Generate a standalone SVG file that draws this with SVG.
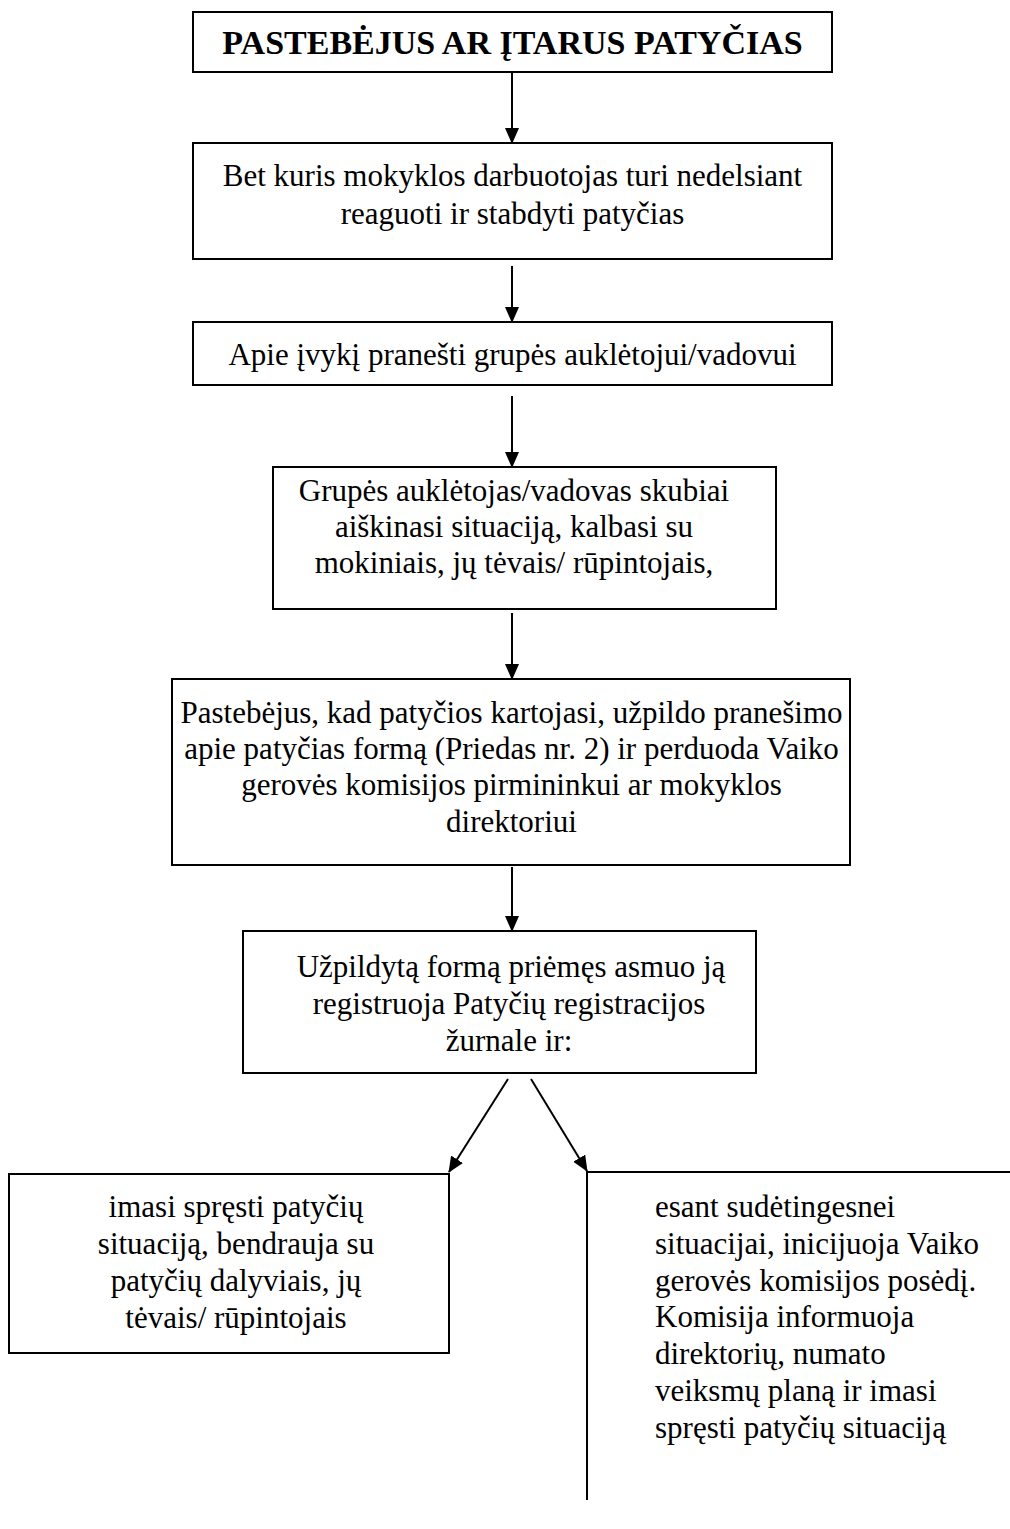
<svg xmlns="http://www.w3.org/2000/svg" width="1010" height="1529" viewBox="0 0 1010 1529">
<defs>
<marker id="ah" markerUnits="userSpaceOnUse" markerWidth="16" markerHeight="14" refX="15" refY="7" orient="auto">
<path d="M0,0 L16,7 L0,14 Z" fill="#000"/>
</marker>
<style>
.box{fill:#fff;stroke:#000;stroke-width:2}
.t{font-family:"Liberation Serif","Times New Roman",serif;font-size:31px;fill:#000}
.c{text-anchor:middle}
.b{font-weight:bold;font-size:34px}
.ln{stroke:#000;stroke-width:2;fill:none}
.ar{stroke:#000;stroke-width:2;fill:none;marker-end:url(#ah)}
</style>
</defs>
<rect width="1010" height="1529" fill="#fff"/>
<g id="connectors">
<line class="ar" x1="512" y1="72" x2="512" y2="143"/>
<line class="ar" x1="512" y1="266" x2="512" y2="322"/>
<line class="ar" x1="512" y1="396" x2="512" y2="467"/>
<line class="ar" x1="512" y1="613" x2="512" y2="679"/>
<line class="ar" x1="512" y1="867" x2="512" y2="931"/>
<line class="ar" x1="508" y1="1079" x2="449" y2="1172"/>
<line class="ar" x1="531" y1="1079" x2="587" y2="1171"/>
</g>
<g id="n1">
<rect class="box" x="193" y="12" width="639" height="60"/>
<text class="t c b" x="512.5" y="54">PASTEBĖJUS AR ĮTARUS PATYČIAS</text>
</g>
<g id="n2">
<rect class="box" x="193" y="143" width="639" height="116"/>
<text class="t c" x="512.5" y="186">Bet kuris mokyklos darbuotojas turi nedelsiant</text>
<text class="t c" x="512.5" y="224">reaguoti ir stabdyti patyčias</text>
</g>
<g id="n3">
<rect class="box" x="193" y="322" width="639" height="63"/>
<text class="t c" x="512.5" y="365">Apie įvykį pranešti grupės auklėtojui/vadovui</text>
</g>
<g id="n4">
<rect class="box" x="273" y="467" width="503" height="142"/>
<text class="t c" x="514" y="501">Grupės auklėtojas/vadovas skubiai</text>
<text class="t c" x="514" y="537">aiškinasi situaciją, kalbasi su</text>
<text class="t c" x="514" y="573">mokiniais, jų tėvais/ rūpintojais,</text>
</g>
<g id="n5">
<rect class="box" x="172" y="679" width="678" height="186"/>
<text class="t c" x="511.5" y="723">Pastebėjus, kad patyčios kartojasi, užpildo pranešimo</text>
<text class="t c" x="511.5" y="759">apie patyčias formą (Priedas nr. 2) ir perduoda Vaiko</text>
<text class="t c" x="511.5" y="795">gerovės komisijos pirmininkui ar mokyklos</text>
<text class="t c" x="511.5" y="832">direktoriui</text>
</g>
<g id="n6">
<rect class="box" x="243" y="931" width="513" height="142"/>
<text class="t c" x="511" y="977">Užpildytą formą priėmęs asmuo ją</text>
<text class="t c" x="509" y="1014">registruoja Patyčių registracijos</text>
<text class="t c" x="509" y="1051">žurnale ir:</text>
</g>
<g id="n7">
<rect class="box" x="9" y="1174" width="440" height="179"/>
<text class="t c" x="236" y="1217">imasi spręsti patyčių</text>
<text class="t c" x="236" y="1254">situaciją, bendrauja su</text>
<text class="t c" x="236" y="1291">patyčių dalyviais, jų</text>
<text class="t c" x="236" y="1328">tėvais/ rūpintojais</text>
</g>
<g id="n8">
<path class="ln" d="M1010,1172 H587 V1500"/>
<text class="t" x="655" y="1217">esant sudėtingesnei</text>
<text class="t" x="655" y="1254">situacijai, inicijuoja Vaiko</text>
<text class="t" x="655" y="1291">gerovės komisijos posėdį.</text>
<text class="t" x="655" y="1327">Komisija informuoja</text>
<text class="t" x="655" y="1364">direktorių, numato</text>
<text class="t" x="655" y="1401">veiksmų planą ir imasi</text>
<text class="t" x="655" y="1438">spręsti patyčių situaciją</text>
</g>
</svg>
